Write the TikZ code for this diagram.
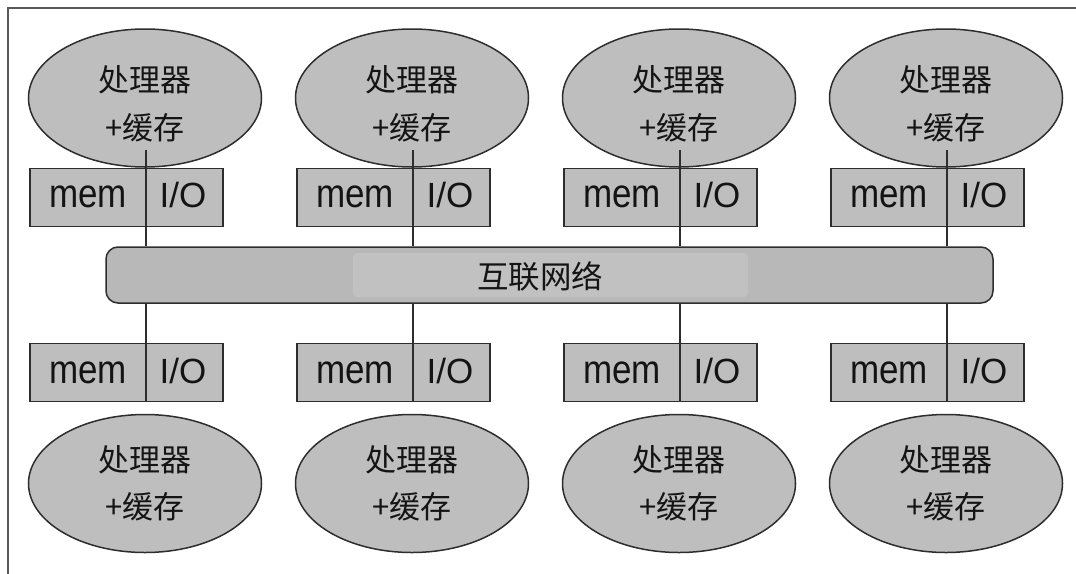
\documentclass[tikz,border=0pt]{standalone}
\usepackage{fontspec}
\setmainfont{Liberation Sans}
\newfontfamily\cjk{Noto Sans CJK SC}
\usetikzlibrary{shapes.geometric}
\definecolor{shapefill}{RGB}{190,190,190}
\definecolor{netfill}{RGB}{184,184,184}
\definecolor{netlight}{RGB}{193,193,193}
\definecolor{edge}{RGB}{45,45,45}
\definecolor{inkc}{RGB}{20,20,20}
\newcommand{\tallword}[1]{\scalebox{1}[1.15]{#1}}
\begin{document}
\begin{tikzpicture}[x=1pt,y=-1pt,
  proc/.style={ellipse,draw=edge,line width=1.5pt,fill=shapefill,minimum width=233pt,minimum height=138pt,inner sep=0pt},
  membox/.style={rectangle,draw=edge,line width=1.5pt,fill=shapefill,minimum width=193pt,minimum height=58pt,inner sep=0pt},
  cjktext/.style={font=\cjk\fontsize{31}{36}\selectfont,anchor=base,inner sep=0pt,text=inkc},
  latintext/.style={font=\fontsize{35}{40}\selectfont,anchor=base,inner sep=0pt,text=inkc},
  wire/.style={draw=edge,line width=1.5pt}]
\useasboundingbox (0,0) rectangle (1076,573);
\fill[white] (0,0) rectangle (1076,573);
\draw[draw=black!65,line width=2pt] (8,8) rectangle (1100,600);
% interconnect
\node[draw=edge,line width=1.5pt,fill=netfill,rounded corners=12pt,minimum width=887pt,minimum height=56pt,inner sep=0pt] (net) at (549.5,275) {};
\node[fill=netlight,rounded corners=4pt,minimum width=395pt,minimum height=44pt,inner sep=0pt] (netglow) at (550.5,275) {};
\node[cjktext,font=\cjk\fontsize{31.5}{36}\selectfont] (netlabel) at (540,288.5) {互联网络};
\foreach \i/\c in {1/146,2/413,3/680,4/947}{
  % upper row
  \node[proc] (pu\i) at (\c-1,98) {};
  \node[cjktext] (pua\i) at (\c-1,91.5) {处理器};
  \node[cjktext] (pub\i) at (\c-1,139.5) {+缓存};
  \node[membox] (mu\i) at (\c-19.5,197.5) {};
  \node[latintext] (mmu\i) at (\c-58,207) {\tallword{mem}};
  \node[latintext] (iou\i) at (\c+37,207) {I/O};
  \coordinate (tu\i) at (\c,150);
  \draw[wire] (tu\i) -- (tu\i |- net.north);
  % lower row
  \node[membox] (ml\i) at (\c-19.5,372.5) {};
  \node[latintext] (mml\i) at (\c-58,383) {\tallword{mem}};
  \node[latintext] (iol\i) at (\c+37,383) {I/O};
  \coordinate (bl\i) at (\c,401);
  \draw[wire] (bl\i |- net.south) -- (bl\i);
  \node[proc] (pl\i) at (\c-1,483.5) {};
  \node[cjktext] (pla\i) at (\c-1,471.5) {处理器};
  \node[cjktext] (plb\i) at (\c-1,518.5) {+缓存};
}
\end{tikzpicture}
\end{document}
